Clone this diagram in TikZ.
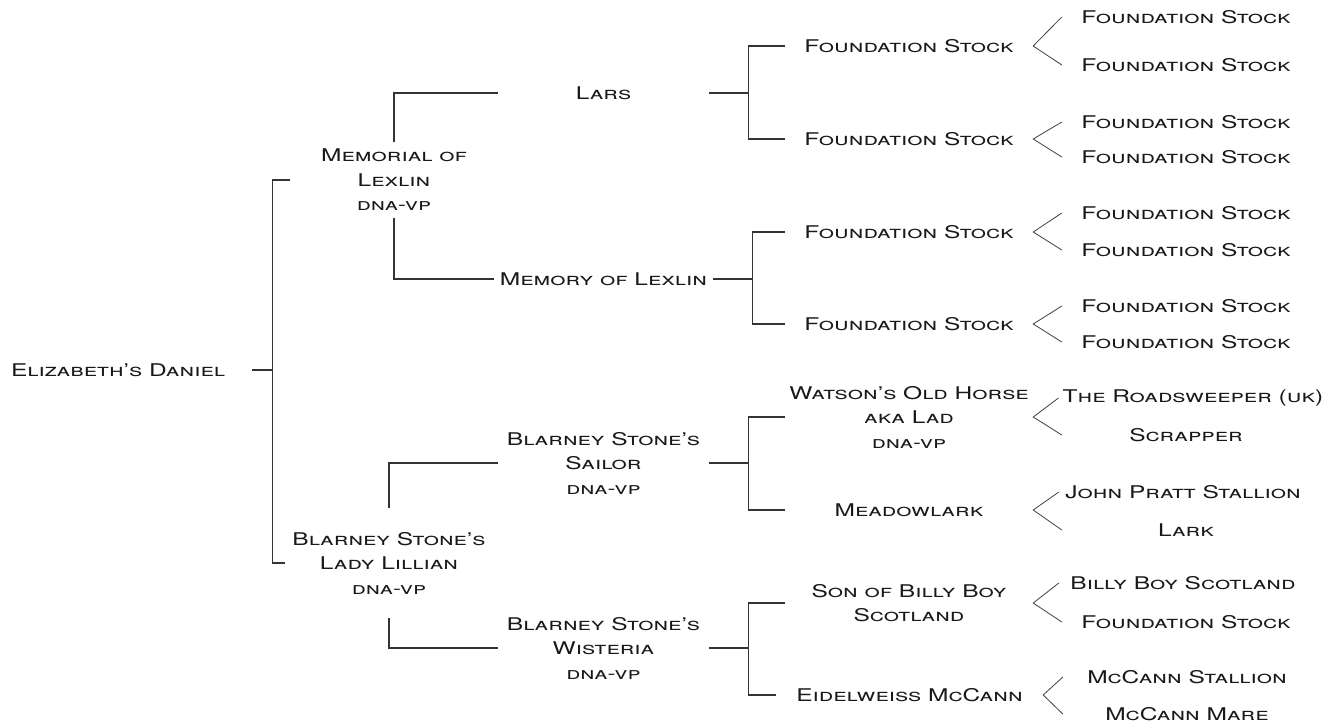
\documentclass[tikz,border=0pt]{standalone}
\usepackage{fontspec}
\setmainfont{TeX Gyre Heros}[FakeStretch=1.4]
\usepackage{tikz}

\begin{document}
\begin{tikzpicture}[x=1pt, y=-1pt,
    every node/.style={font=\fontsize{17.5}{24.5}\selectfont\scshape, text=black!90, align=center, inner sep=0pt},
    line/.style={draw=black!80, line width=1.1pt},
    fork/.style={draw=black!75, line width=0.8pt},
    gen1/.style={minimum width=207pt},
    gen2/.style={minimum width=211pt, inner xsep=6pt},
    gen3/.style={minimum width=248pt},
    gen4/.style={minimum width=248pt, inner xsep=4pt}]

    \useasboundingbox (0,0) rectangle (1324,726);

    % horse
    \node[minimum width=268pt] (daniel) at (118,370) {Elizabeth's Daniel};

    % sire and dam
    \node[gen1, minimum height=75pt] (memorial) at (394,180) {Memorial of\\Lexlin\\{\fontsize{17}{24.5}\selectfont dna-vp}};
    \node[gen1, minimum height=110pt] (lillian) at (389,563) {Blarney Stone's\\Lady Lillian\\{\fontsize{17}{24.5}\selectfont dna-vp}};

    % grandparents
    \node[gen2] (lars) at (603.5,93) {Lars};
    \node[gen2] (memory) at (603.5,279) {Memory of Lexlin};
    \node[gen2] (sailor) at (603.5,463) {Blarney Stone's\\Sailor\\{\fontsize{17}{24.5}\selectfont dna-vp}};
    \node[gen2] (wisteria) at (603.5,648) {Blarney Stone's\\Wisteria\\{\fontsize{17}{24.5}\selectfont dna-vp}};

    % great grandparents
    \node[gen3] (stockA) at (909,46) {Foundation Stock};
    \node[gen3] (stockB) at (909,139) {Foundation Stock};
    \node[gen3] (stockC) at (909,232) {Foundation Stock};
    \node[gen3] (stockD) at (909,324) {Foundation Stock};
    \node[gen3] (watson) at (909,417) {Watson's Old Horse\\aka Lad\\{\fontsize{17}{24.5}\selectfont dna-vp}};
    \node[gen3] (meadowlark) at (909,510) {Meadowlark};
    \node[gen3] (billyson) at (909,603) {Son of Billy Boy\\Scotland};
    \node[gen3, minimum width=267pt] (eidelweiss) at (909.5,695) {Eidelweiss McCann};

    % great great grandparents
    \node[gen4] (stockAa) at (1186,17) {Foundation Stock};
    \node[gen4] (stockAb) at (1186,65) {Foundation Stock};
    \node[gen4] (stockBa) at (1186,122) {Foundation Stock};
    \node[gen4] (stockBb) at (1186,157) {Foundation Stock};
    \node[gen4] (stockCa) at (1186,213) {Foundation Stock};
    \node[gen4] (stockCb) at (1186,250) {Foundation Stock};
    \node[gen4] (stockDa) at (1186,306) {Foundation Stock};
    \node[gen4] (stockDb) at (1186,342) {Foundation Stock};
    \node[gen4] (roadsweeper) at (1193,398) {The Roadsweeper (uk)};
    \node[gen4] (scrapper) at (1186,435) {Scrapper};
    \node[gen4] (pratt) at (1183,492) {John Pratt Stallion};
    \node[gen4] (lark) at (1186,530) {Lark};
    \node[gen4] (billyboy) at (1183,583) {Billy Boy Scotland};
    \node[gen4] (stockE) at (1186,622) {Foundation Stock};
    \node[gen4] (mcstallion) at (1187,677) {McCann Stallion};
    \node[gen4] (mcmare) at (1187,714) {McCann Mare};

    % brackets
    \draw[line] (daniel.east) -- ++(20,0) coordinate (dj);
    \draw[line] (memorial.west) -| (dj) |- (lillian.west);
    \draw[line] (memorial.north) |- (lars.west);
    \draw[line] (memorial.south) |- (memory.west);
    \draw[line] (lillian.north) |- (sailor.west);
    \draw[line] (lillian.south) |- (wisteria.west);
    \foreach \p/\a/\b in {lars/stockA/stockB, memory/stockC/stockD, sailor/watson/meadowlark, wisteria/billyson/eidelweiss}
        \draw[line] (\p.east) -- ++(39,0) coordinate (j) (\a.west) -| (j) |- (\b.west);

    % forks
    \foreach \p/\a/\b in {stockA/stockAa/stockAb, stockB/stockBa/stockBb, stockC/stockCa/stockCb, stockD/stockDa/stockDb,
        watson/roadsweeper/scrapper, meadowlark/pratt/lark, billyson/billyboy/stockE, eidelweiss/mcstallion/mcmare}
        \draw[fork] (\a.west) -- (\p.east) -- (\b.west);
\end{tikzpicture}
\end{document}
